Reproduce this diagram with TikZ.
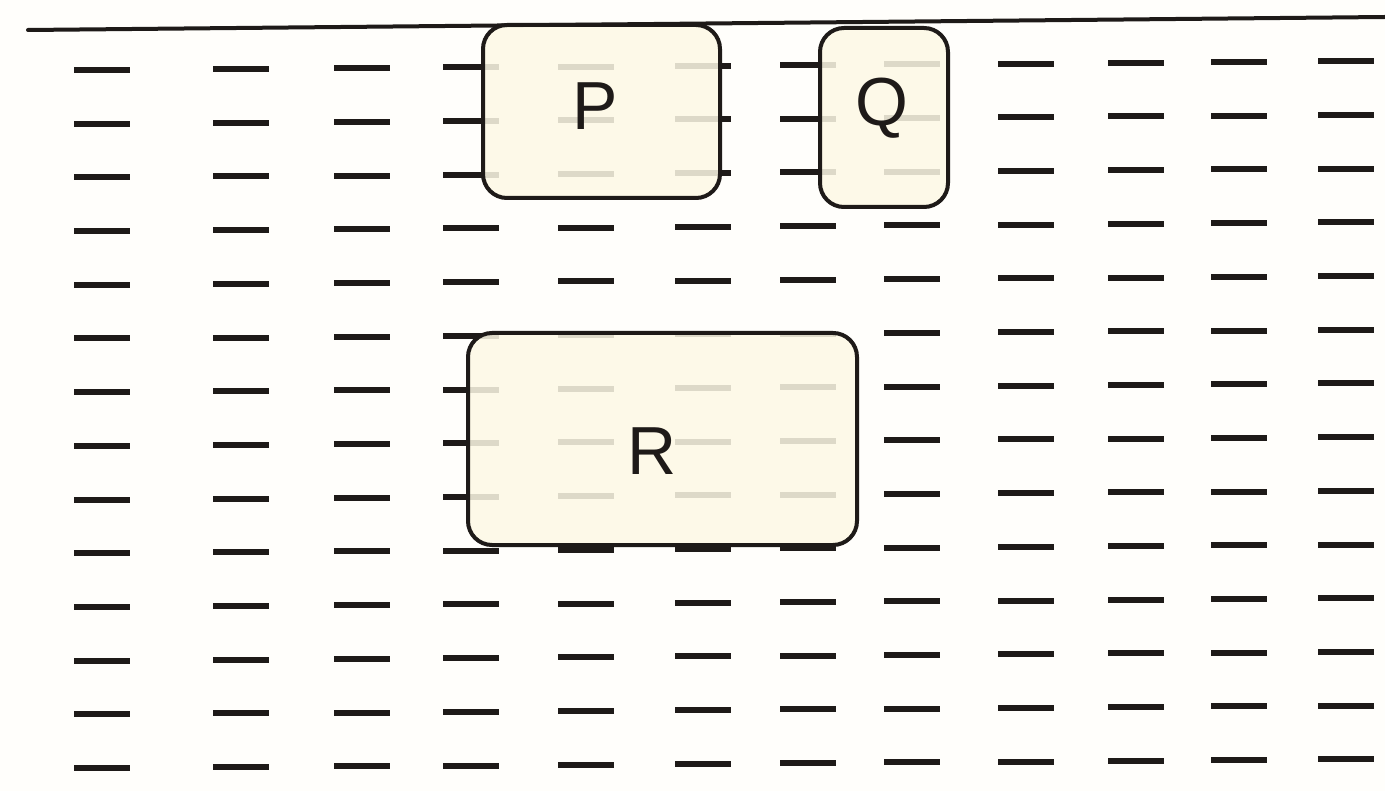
\documentclass[tikz,border=0pt]{standalone}
\usepackage{fontspec}
\setmainfont{Liberation Sans}
\begin{document}
\begin{tikzpicture}[x=1pt,y=-1pt,
  surface/.style={line width=4pt,draw=inkc,line cap=round},
  liq/.style={line width=6pt,draw=inkc},
  blockbox/.style={draw=inkc,line width=4pt,rounded corners=24pt,fill=boxc,fill opacity=0.86,text opacity=1,inner sep=0pt},
  lbl/.style={font=\fontsize{68}{70}\selectfont,text=inkc}]
\definecolor{inkc}{HTML}{1E1A18}
\definecolor{bgc}{HTML}{FFFEFB}
\definecolor{boxc}{HTML}{FDF9E6}
\fill[bgc] (0,0) rectangle (1385,791);
\useasboundingbox (0,0) rectangle (1385,791);
\coordinate (sl) at (28,30);
\coordinate (sr) at (1385,17);
\draw[surface] (sl) -- (sr);
\foreach \i in {0,...,13}{
  \foreach \x in {102,241,362,471,586,703,808,912,1026,1136,1239,1346}{
    \pgfmathsetmacro\yy{70+53.7*\i-0.007*(\x-100)}
    \draw[liq] (\x-28,\yy) -- (\x+28,\yy);
  }
}
\node[blockbox,minimum width=237pt,minimum height=173pt] (P) at (601.5,111.5) {};
\node[blockbox,minimum width=128pt,minimum height=179pt] (Q) at (884,117.5) {};
\node[blockbox,minimum width=389pt,minimum height=212pt] (R) at (662.5,439) {};
\node[lbl] (Pt) at (595,106) {P};
\node[lbl] (Qt) at (882,108) {Q};
\node[lbl] (Rt) at (652,451) {R};
\end{tikzpicture}
\end{document}
